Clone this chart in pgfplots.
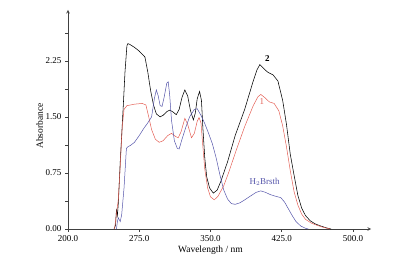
\documentclass[border=0pt]{standalone}
\usepackage{fontspec}
\setmainfont{Liberation Serif}
\usepackage{pgfplots}
\pgfplotsset{compat=1.18}
\definecolor{cred}{RGB}{228,95,85}
\definecolor{cblue}{RGB}{85,85,170}
\begin{document}
\begin{tikzpicture}
\path[use as bounding box] (-68pt,-35pt) rectangle (327pt,229pt);
\begin{axis}[
  scale only axis, width=303pt, height=219pt,
  xmin=200, xmax=519, ymin=0, ymax=2.93,
  axis lines=left,
  axis line style={line width=0.6pt, black!75},
  xtick={200,275,350,425,500},
  ytick={0,0.75,1.5,2.25},
  minor ytick={0.375,1.125,1.875,2.625},
  xticklabel style={/pgf/number format/.cd,fixed,fixed zerofill,precision=1},
  yticklabel style={/pgf/number format/.cd,fixed,fixed zerofill,precision=2},
  /pgf/number format/assume math mode=true,
  tick align=outside,
  tick style={black!75, line width=0.5pt},
  major tick length=3pt, minor tick length=3pt,
  ticklabel style={font=\fontsize{9}{10}\selectfont},
  xlabel={Wavelength / nm},
  ylabel={Absorbance},
  label style={font=\fontsize{9.5}{11}\selectfont},
  xlabel style={at={(axis description cs:0.47,0)},anchor=north,yshift=-13pt},
  ylabel style={at={(ticklabel cs:0.47)},yshift=-4pt},
  clip=false,
]
% curve 2 (black)
\addplot[black, line width=0.55pt] coordinates {
(248.5,0.00) (250,0.05) (251,0.25) (252,0.18) (253,0.35) (255,0.9) (258,1.6) (260,2.1) (262,2.45) (263,2.48) (265,2.47) (270,2.43) (275,2.38) (281,2.30) (284,2.10) (287,1.85) (290,1.66) (293,1.54) (297,1.50) (300,1.52) (304,1.57) (307,1.59) (310,1.57) (314,1.53) (317,1.60) (320,1.76) (323,1.86) (326,1.78) (329,1.58) (332,1.46) (334,1.55) (336,1.74) (338.5,1.84) (340.5,1.72) (342,1.35) (344,0.95) (346,0.70) (349,0.55) (353,0.48) (357,0.52) (361,0.64) (368,0.90) (376,1.25) (386,1.60) (395,1.98) (399,2.13) (402,2.20) (405,2.16) (410,2.10) (416,2.06) (421,1.98) (426,1.72) (430,1.40) (434,1.00) (438,0.72) (442,0.45) (446,0.28) (450,0.18) (455,0.11) (460,0.07) (466,0.04) (472,0.015) (477,0.00)
};
% curve 1 (red)
\addplot[cred, line width=0.5pt] coordinates {
(249,0.0) (251,0.2) (253,0.4) (255,0.85) (257,1.35) (259,1.60) (262,1.65) (270,1.67) (278,1.68) (282,1.66) (285,1.50) (288,1.33) (292,1.20) (296,1.16) (300,1.18) (305,1.25) (309,1.28) (313,1.24) (316,1.22) (319,1.30) (323,1.48) (326,1.40) (330,1.22) (333,1.28) (336,1.44) (338,1.49) (340,1.42) (342,1.10) (344,0.80) (347,0.55) (350,0.43) (354,0.39) (358,0.44) (364,0.58) (369,0.75) (377,1.05) (386,1.37) (395,1.65) (400,1.77) (403,1.80) (407,1.76) (412,1.70) (417,1.68) (422,1.58) (426,1.38) (430,1.10) (434,0.78) (438,0.50) (442,0.32) (446,0.20) (450,0.13) (456,0.08) (462,0.05) (468,0.025) (476,0.0)
};
% H2Brsth (blue)
\addplot[cblue, line width=0.5pt] coordinates {
(251,0.0) (252,0.10) (253,0.15) (255,0.10) (256.5,0.19) (259,0.55) (261.5,1.08) (263,1.10) (266,1.12) (270,1.16) (275,1.25) (280,1.35) (284,1.42) (288,1.50) (291,1.75) (293,1.86) (295,1.78) (297,1.65) (299,1.64) (301,1.75) (304,1.95) (305.5,1.97) (307,1.80) (309,1.45) (312,1.18) (315,1.08) (317,1.07) (320,1.20) (324,1.36) (328,1.50) (333,1.60) (336,1.61) (340,1.52) (344,1.41) (348,1.28) (352,1.14) (356,0.95) (360,0.72) (364,0.52) (368,0.40) (372,0.34) (376,0.33) (381,0.35) (386,0.39) (392,0.44) (398,0.49) (403,0.51) (408,0.49) (413,0.46) (418,0.44) (424,0.42) (428,0.36) (432,0.27) (436,0.18) (440,0.10) (445,0.04) (450,0.01) (453,0.0)
};
\node[font=\fontsize{9}{10}\selectfont\bfseries] at (axis cs:410,2.28) {2};
\node[font=\fontsize{9}{10}\selectfont, text=cred] at (axis cs:404,1.70) {1};
\node[font=\fontsize{9}{10}\selectfont, text=cblue] at (axis cs:407,0.63) {H$_2$Brsth};
\end{axis}
\end{tikzpicture}
\end{document}
